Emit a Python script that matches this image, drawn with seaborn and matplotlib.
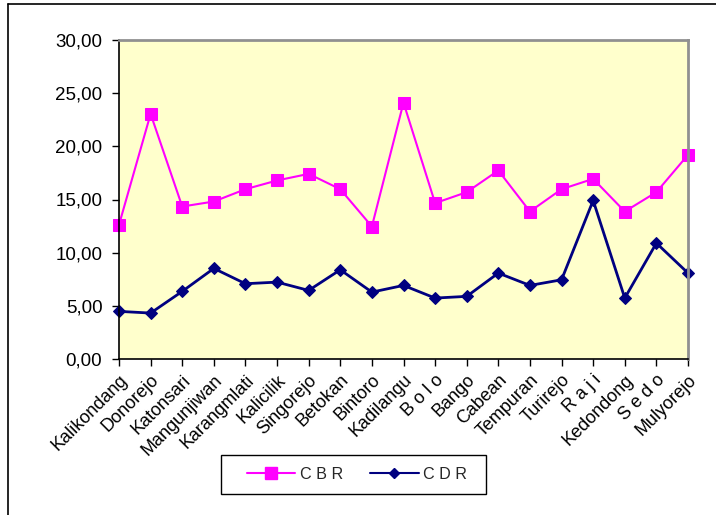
import matplotlib
matplotlib.use("Agg")
import matplotlib.pyplot as plt
import numpy as np
import pandas as pd
import seaborn as sns
from matplotlib.lines import Line2D
from matplotlib.patches import Rectangle
from matplotlib.ticker import FuncFormatter, MultipleLocator

sns.set_theme(style="white")
plt.rcParams["font.family"] = ["Liberation Sans", "DejaVu Sans"]

villages = ["Kalikondang", "Donorejo", "Katonsari", "Mangunjiwan", "Karangmlati",
            "Kalicilik", "Singorejo", "Betokan", "Bintoro", "Kadilangu",
            "B o l o", "Bango", "Cabean", "Tempuran", "Turirejo",
            "R a j i", "Kedondong", "S e d o", "Mulyorejo"]
cbr = [12.62, 23.05, 14.34, 14.81, 15.97, 16.79, 17.41, 15.97, 12.46, 24.11,
       14.66, 15.69, 17.73, 13.87, 15.97, 16.94, 13.87, 15.69, 19.20]
cdr = [4.48, 4.32, 6.36, 8.52, 7.08, 7.23, 6.45, 8.39, 6.29, 6.92,
       5.73, 5.89, 8.08, 6.92, 7.45, 14.91, 5.73, 10.90, 8.08]

df = pd.DataFrame({
    "pos": list(range(len(villages))) * 2,
    "value": cbr + cdr,
    "series": ["C B R"] * len(cbr) + ["C D R"] * len(cdr),
})

colors = {"C B R": "#FF00FF", "C D R": "#000080"}
markers = {"C B R": "s", "C D R": "D"}
msize = {"C B R": 9, "C D R": 6.3}
lwidth = {"C B R": 1.5, "C D R": 2.0}

fig = plt.figure(figsize=(7.16, 5.15), dpi=100)
ax = fig.add_axes([119 / 716, 1 - 359 / 515, 569 / 716, 319 / 515])
ax.set_facecolor("#FFFFCC")

for name, sub in df.groupby("series"):
    sns.lineplot(data=sub, x="pos", y="value", ax=ax, color=colors[name],
                 marker=markers[name], markersize=msize[name],
                 markeredgecolor=colors[name], linewidth=lwidth[name],
                 legend=False)

ax.set_xlim(0, len(villages) - 1)
ax.set_ylim(0, 30)
ax.yaxis.set_major_locator(MultipleLocator(5))
ax.yaxis.set_major_formatter(FuncFormatter(lambda v, p: f"{v:.2f}".replace(".", ",")))
ax.set_xticks(range(len(villages)))
ax.set_xticklabels(villages, rotation=45, ha="right", va="top",
                   rotation_mode="anchor", fontsize=13, color="black")
ax.tick_params(axis="y", labelsize=13.5, labelcolor="black", left=True,
               length=5, width=1, color="black", direction="out", pad=7)
ax.tick_params(axis="x", bottom=True, length=5, width=1, color="black",
               direction="out", pad=4)
ax.set_xlabel("")
ax.set_ylabel("")

for side in ["left", "bottom"]:
    ax.spines[side].set_color("black")
    ax.spines[side].set_linewidth(1.2)
for side in ["top", "right"]:
    ax.spines[side].set_color("#909090")
    ax.spines[side].set_linewidth(2)
for ln in ax.lines:
    ln.set_clip_on(False)

# legend, box drawn separately to get the wide Excel-style padding
fig.add_artist(Rectangle((221 / 716, 1 - 494 / 515), 265 / 716, 39 / 515,
                         transform=fig.transFigure, facecolor="white",
                         edgecolor="black", lw=1))
handles = [Line2D([], [], color=colors[k], marker=markers[k],
                  markersize=8 if k == "C B R" else 4.8, linewidth=1.5)
           for k in colors]
fig.legend(handles, list(colors.keys()), loc="center",
           bbox_to_anchor=(357 / 716, 1 - 474.5 / 515), ncol=2,
           fontsize=11.6, frameon=False, handlelength=3.0,
           handletextpad=0.3, columnspacing=1.7)

# outer chart frame
fig.add_artist(Line2D([8 / 716, 1], [1 - 4 / 515, 1 - 4 / 515],
                      transform=fig.transFigure, color="black", lw=1.2))
fig.add_artist(Line2D([8 / 716, 8 / 716], [0, 1 - 4 / 515],
                      transform=fig.transFigure, color="black", lw=1.2))

fig.savefig("out.png", dpi=100)
